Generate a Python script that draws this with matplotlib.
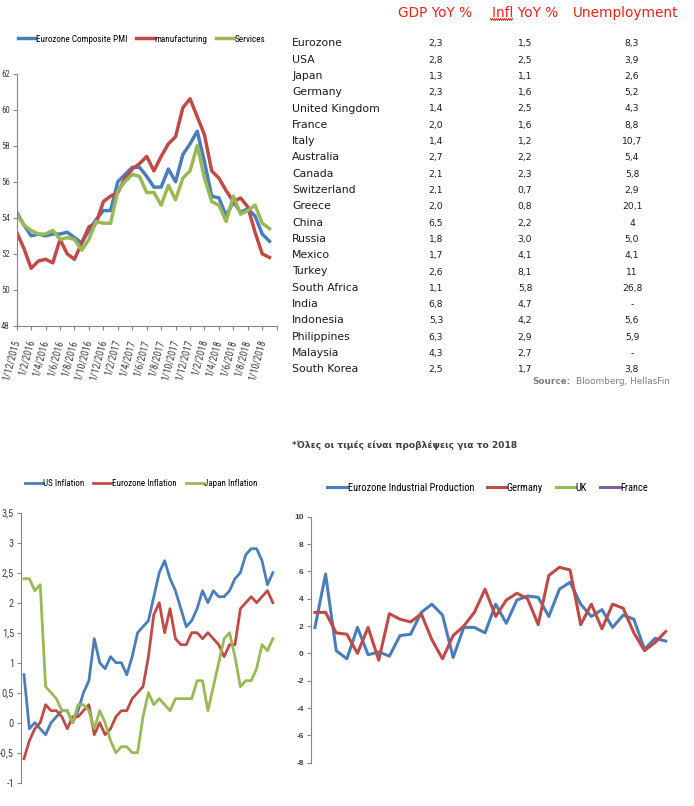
import numpy as np
import matplotlib
matplotlib.use('Agg')
import matplotlib.pyplot as plt
from matplotlib import font_manager
from matplotlib.lines import Line2D

# ---- data ----
# Eurozone PMIs, monthly 12/2015 .. 11/2018
pmi_comp = [54.3, 53.6, 53.0, 53.1, 53.0, 53.1, 53.1, 53.2, 52.9, 52.6, 53.3, 53.9,
            54.4, 54.4, 56.0, 56.4, 56.8, 56.8, 56.3, 55.7, 55.7, 56.7, 56.0, 57.5,
            58.1, 58.8, 57.1, 55.2, 55.1, 54.1, 54.9, 54.3, 54.5, 54.1, 53.1, 52.7]
pmi_manu = [53.2, 52.3, 51.2, 51.6, 51.7, 51.5, 52.8, 52.0, 51.7, 52.6, 53.5, 53.7,
            54.9, 55.2, 55.4, 56.2, 56.7, 57.0, 57.4, 56.6, 57.4, 58.1, 58.5, 60.1,
            60.6, 59.6, 58.6, 56.6, 56.2, 55.5, 54.9, 55.1, 54.6, 53.2, 52.0, 51.8]
pmi_serv = [54.2, 53.6, 53.3, 53.1, 53.1, 53.3, 52.8, 52.9, 52.8, 52.2, 52.8, 53.8,
            53.7, 53.7, 55.5, 56.0, 56.4, 56.3, 55.4, 55.4, 54.7, 55.8, 55.0, 56.2,
            56.6, 58.0, 56.2, 54.9, 54.7, 53.8, 55.2, 54.2, 54.4, 54.7, 53.7, 53.4]
pmi_dates = ['1/12/2015', '1/2/2016', '1/4/2016', '1/6/2016', '1/8/2016', '1/10/2016',
             '1/12/2016', '1/2/2017', '1/4/2017', '1/6/2017', '1/8/2017', '1/10/2017',
             '1/12/2017', '1/2/2018', '1/4/2018', '1/6/2018', '1/8/2018', '1/10/2018']

# inflation, monthly
us_infl = [0.8, -0.1, 0.0, -0.1, -0.2, 0.0, 0.1, 0.2, 0.2, 0.0, 0.2, 0.5, 0.7, 1.4, 1.0, 0.9,
           1.1, 1.0, 1.0, 0.8, 1.1, 1.5, 1.6, 1.7, 2.1, 2.5, 2.7, 2.4, 2.2, 1.9, 1.6, 1.7,
           1.9, 2.2, 2.0, 2.2, 2.1, 2.1, 2.2, 2.4, 2.5, 2.8, 2.9, 2.9, 2.7, 2.3, 2.5]
ez_infl = [-0.6, -0.3, -0.1, 0.0, 0.3, 0.2, 0.2, 0.1, -0.1, 0.1, 0.1, 0.2, 0.3, -0.2, 0.0, -0.2,
           -0.1, 0.1, 0.2, 0.2, 0.4, 0.5, 0.6, 1.1, 1.8, 2.0, 1.5, 1.9, 1.4, 1.3, 1.3, 1.5,
           1.5, 1.4, 1.5, 1.4, 1.3, 1.1, 1.3, 1.3, 1.9, 2.0, 2.1, 2.0, 2.1, 2.2, 2.0]
jp_infl = [2.4, 2.4, 2.2, 2.3, 0.6, 0.5, 0.4, 0.2, 0.2, 0.0, 0.3, 0.3, 0.2, -0.1, 0.2, 0.0,
           -0.3, -0.5, -0.4, -0.4, -0.5, -0.5, 0.1, 0.5, 0.3, 0.4, 0.3, 0.2, 0.4, 0.4, 0.4, 0.4,
           0.7, 0.7, 0.2, 0.6, 1.0, 1.4, 1.5, 1.1, 0.6, 0.7, 0.7, 0.9, 1.3, 1.2, 1.4]
infl_ticks = [-1, -0.5, 0, 0.5, 1, 1.5, 2, 2.5, 3, 3.5]

# industrial production YoY %
ez_ip = [1.9, 5.8, 0.2, -0.4, 1.9, -0.1, 0.1, -0.2, 1.3, 1.4, 3.0, 3.6, 2.8, -0.3, 1.9, 1.9, 1.5,
         3.6, 2.2, 3.9, 4.2, 4.1, 2.7, 4.7, 5.2, 3.6, 2.7, 3.2, 1.9, 2.8, 2.5, 0.3, 1.1, 0.9]
de_ip = [3.0, 3.0, 1.5, 1.4, 0.0, 1.9, -0.5, 2.9, 2.5, 2.3, 2.9, 1.0, -0.4, 1.3, 2.0, 3.0, 4.7,
         2.7, 3.9, 4.4, 4.0, 2.1, 5.7, 6.3, 6.1, 2.1, 3.6, 1.8, 3.6, 3.3, 1.5, 0.2, 0.8, 1.6]
uk_ip = []
fr_ip = []

# table (forecasts 2018)
countries = ['Eurozone', 'USA', 'Japan', 'Germany', 'United Kingdom', 'France', 'Italy',
             'Australia', 'Canada', 'Switzerland', 'Greece', 'China', 'Russia', 'Mexico',
             'Turkey', 'South Africa', 'India', 'Indonesia', 'Philippines', 'Malaysia',
             'South Korea']
gdp = ['2,3', '2,8', '1,3', '2,3', '1,4', '2,0', '1,4', '2,7', '2,1', '2,1', '2,0', '6,5',
       '1,8', '1,7', '2,6', '1,1', '6,8', '5,3', '6,3', '4,3', '2,5']
infl = ['1,5', '2,5', '1,1', '1,6', '2,5', '1,6', '1,2', '2,2', '2,3', '0,7', '0,8', '2,2',
        '3,0', '4,1', '8,1', '5,8', '4,7', '4,2', '2,9', '2,7', '1,7']
unemp = ['8,3', '3,9', '2,6', '5,2', '4,3', '8,8', '10,7', '5,4', '5,8', '2,9', '20,1', '4',
         '5,0', '4,1', '11', '26,8', '-', '5,6', '5,9', '-', '3,8']
headers = ['GDP YoY %', 'Infl YoY %', 'Unemployment']

# ---- style ----
W, H = 694, 806
BLUE, RED, GREEN, PURPLE = '#4A7EBB', '#BE4B48', '#98B954', '#7D60A0'
AXC = '#868686'
TXT = '#404040'


def pick(names):
    have = {f.name for f in font_manager.fontManager.ttflist}
    for n in names:
        if n in have:
            return n
    return 'DejaVu Sans'


NARROW = pick(['Liberation Sans Narrow', 'Arial Narrow', 'Roboto Condensed', 'Liberation Sans'])
ARIAL = pick(['Liberation Sans', 'Arial'])


def box(x0, y0, x1, y1):
    return [x0 / W, 1 - y1 / H, (x1 - x0) / W, (y1 - y0) / H]


def ftext(x, y, s, **kw):
    fig.text(x / W, 1 - y / H, s, **kw)


def style_axis(ax, show_x):
    for s in ['top', 'right']:
        ax.spines[s].set_visible(False)
    ax.spines['left'].set_color(AXC)
    ax.spines['bottom'].set_color(AXC)
    ax.spines['bottom'].set_visible(show_x)
    ax.tick_params(direction='out', length=3, width=0.8, color=AXC, pad=2)
    if not show_x:
        ax.set_xticks([])


def put_legend(ax, handles, cx, cy, size, hl, cs):
    ax.legend(handles=handles, loc='center', bbox_to_anchor=(cx / W, 1 - cy / H),
              bbox_transform=fig.transFigure, ncol=len(handles), frameon=False,
              handlelength=hl, handletextpad=0.05, columnspacing=cs, borderpad=0,
              prop={'family': NARROW, 'size': size})


fig = plt.figure(figsize=(W / 100, H / 100), dpi=100)

# ---- PMI chart ----
ax1 = fig.add_axes(box(16.7, 73.5, 276.7, 326))
m = np.arange(len(pmi_comp))
l1, = ax1.plot(m, pmi_comp, color=BLUE, lw=2.5, label='Eurozone Composite PMI')
l2, = ax1.plot(m, pmi_manu, color=RED, lw=2.5, label='manufacturing')
l3, = ax1.plot(m, pmi_serv, color=GREEN, lw=2.5, label='Services')
ax1.set_xlim(0, len(pmi_comp))
ax1.set_ylim(48, 62)
style_axis(ax1, True)
ax1.set_yticks(np.arange(48, 63, 2))
ax1.set_yticklabels([str(v) for v in range(48, 63, 2)], fontsize=6.3, family=NARROW, color=TXT)
ax1.set_xticks(np.arange(0, len(pmi_comp), 2))
ax1.set_xticklabels(pmi_dates, rotation=75, rotation_mode='anchor', ha='right', va='center',
                    fontsize=7.2, family=NARROW, color=TXT)
ax1.tick_params(axis='x', pad=7)
ax1.set_xticks([len(pmi_comp)], minor=True)
ax1.tick_params(which='minor', direction='out', length=3, width=0.8, color=AXC)
put_legend(ax1, [l1, l2, l3], 141.5, 39, 6.6, 1.9, 1.0)

# ---- table ----
hx = [435, 525, 626]
for x, s in zip(hx, headers):
    ftext(x, 12.7, s, ha='center', va='center', fontsize=9.8, color='#E8211A',
          family='DejaVu Sans')
# spell-check squiggle under "Infl"
sq = np.linspace(490.5, 512.5, 23)
fig.add_artist(Line2D(sq / W, 1 - (19.5 + 0.9 * np.where(np.arange(23) % 2, 1, -1)) / H,
                      color='#E8211A', lw=0.7, transform=fig.transFigure))

for i, c in enumerate(countries):
    y = 43.3 + i * 16.3
    ftext(292, y, c, ha='left', va='center', fontsize=7.8, color='#1a1a1a', family='DejaVu Sans')
    ftext(436, y + 0.5, gdp[i], ha='center', va='center', fontsize=6.6, color='#1a1a1a',
          family='DejaVu Sans')
    ftext(525, y + 0.5, infl[i], ha='center', va='center', fontsize=6.6, color='#1a1a1a',
          family='DejaVu Sans')
    ftext(632, y + 0.5, unemp[i], ha='center', va='center', fontsize=6.6, color='#1a1a1a',
          family='DejaVu Sans')

ftext(532, 381.7, 'Source:', ha='left', va='center', fontsize=6.4, color='#7f7f7f',
      fontweight='bold', family='DejaVu Sans')
ftext(575.5, 381.7, 'Bloomberg, HellasFin', ha='left', va='center', fontsize=6.4,
      color='#7f7f7f', family='DejaVu Sans')
ftext(292.5, 445, '*Όλες οι τιμές είναι προβλέψεις για το 2018', ha='left', va='center',
      fontsize=6.6, color='#404040', fontweight='bold', family='DejaVu Sans')

# ---- inflation chart ----
ax2 = fig.add_axes(box(21, 512.7, 275, 782.7))
n = np.arange(len(us_infl))
a1, = ax2.plot(n, us_infl, color=BLUE, lw=2.0, label='US Inflation')
a2, = ax2.plot(n, ez_infl, color=RED, lw=2.0, label='Eurozone Inflation')
a3, = ax2.plot(n, jp_infl, color=GREEN, lw=2.0, label='Japan Inflation')
ax2.set_xlim(-0.55, len(us_infl) - 0.6)
ax2.set_ylim(-1, 3.5)
style_axis(ax2, False)
ax2.set_yticks(infl_ticks)
ax2.set_yticklabels([('%g' % v).replace('.', ',') for v in infl_ticks], fontsize=7.5,
                    family=NARROW, color=TXT)
put_legend(ax2, [a1, a2, a3], 141, 484, 6.5, 2.0, 1.0)

# ---- industrial production chart ----
ax3 = fig.add_axes(box(310.7, 516.7, 670, 762.7))
k = np.arange(len(ez_ip))
b1, = ax3.plot(k, ez_ip, color=BLUE, lw=2.2, label='Eurozone Industrial Production')
b2, = ax3.plot(k, de_ip, color=RED, lw=2.2, label='Germany')
b3, = ax3.plot(np.arange(len(uk_ip)), uk_ip, color=GREEN, lw=2.2, label='UK')
b4, = ax3.plot(np.arange(len(fr_ip)), fr_ip, color=PURPLE, lw=2.2, label='France')
ax3.set_xlim(-0.4, len(ez_ip) - 0.6)
ax3.set_ylim(-8, 10)
style_axis(ax3, False)
ax3.set_yticks(np.arange(-8, 11, 2))
ax3.set_yticklabels([str(v) for v in range(-8, 11, 2)], fontsize=6, family=ARIAL,
                    fontweight='bold', color=TXT)
put_legend(ax3, [b1, b2, b3, b4], 487.5, 488, 7.5, 1.9, 1.2)

fig.savefig('out.png', dpi=100, facecolor='white')
